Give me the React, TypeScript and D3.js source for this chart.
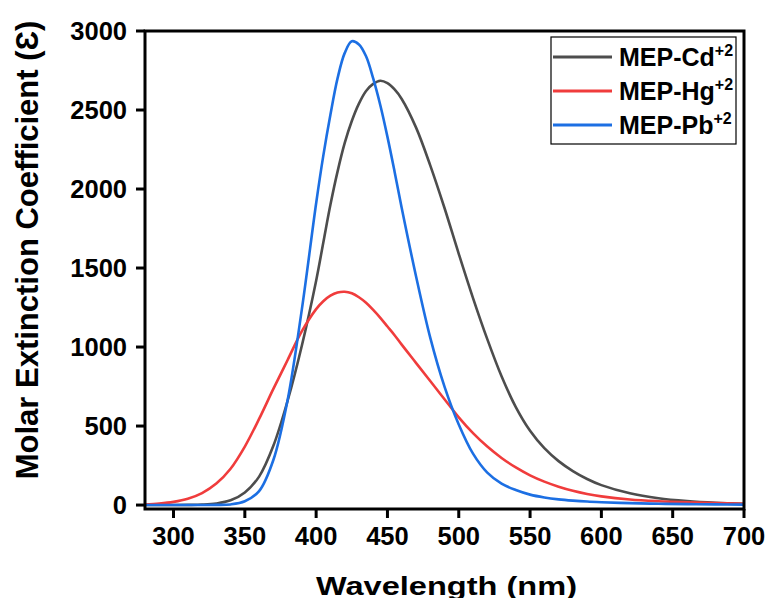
import React from "react";
import * as d3 from "d3";

const wavelengths = [280,290,300,310,320,330,340,350,360,370,380,390,400,405,410,415,420,425,430,435,440,445,450,455,460,470,480,490,500,510,520,530,540,550,560,570,580,590,600,620,640,660,680,700];

const cdValues = [0,0,0,1,3,10,30,80,180,375,660,1010,1420,1660,1900,2110,2290,2430,2540,2620,2665,2685,2670,2630,2570,2390,2150,1880,1590,1310,1050,815,620,470,360,278,215,165,126,74,43,25,14,8];

const hgValues = [3,9,20,40,76,136,230,370,545,735,918,1100,1240,1290,1325,1345,1350,1340,1315,1280,1235,1185,1130,1075,1015,900,785,670,555,455,370,298,238,188,148,116,90,70,55,35,24,17,12,8];

const pbValues = [0,0,0,0,0,1,4,24,88,285,665,1240,1910,2210,2470,2700,2860,2935,2915,2840,2700,2530,2330,2110,1880,1450,1060,750,510,325,205,135,95,66,48,36,28,22,18,12,8,6,4,3];

const seriesNames = ["MEP-Cd", "MEP-Hg", "MEP-Pb"];
const seriesColors = ["#4d4d4d", "#f03c3c", "#1c6fe3"];
const seriesData = [cdValues, hgValues, pbValues];

const xTicks = [300,350,400,450,500,550,600,650,700];
const yTicks = [0,500,1000,1500,2000,2500,3000];

const xLabel = "Wavelength (nm)";
const yLabel = "Molar Extinction Coefficient (\u0190)";

const W = 770, H = 598;
const L = 145, R = 744, T = 31, B = 509;
const FONT = "'Liberation Sans', Arial, sans-serif";

export default function App() {
  const x = d3.scaleLinear().domain([280, 700]).range([L, R]);
  const y = d3.scaleLinear().domain([-25, 3000]).range([B, T]);
  const line = d3.line<[number, number]>()
    .x(d => x(d[0]))
    .y(d => y(d[1]))
    .curve(d3.curveCatmullRom.alpha(0.5));

  const legendRows = [57, 91, 125];

  return (
    <svg width={W} height={H} style={{ position: "absolute", left: 0, top: 0 }} fontFamily={FONT} fontWeight="bold">
      <rect x={0} y={0} width={W} height={H} fill="#fff" />
      <defs>
        <clipPath id="plot">
          <rect x={L} y={T} width={R - L} height={B - T} />
        </clipPath>
      </defs>
      <g clipPath="url(#plot)">
        {seriesData.map((vals, i) => (
          <path key={i}
            d={line(wavelengths.map((w, j) => [w, vals[j]] as [number, number])) || ""}
            fill="none" stroke={seriesColors[i]} strokeWidth={2.6} />
        ))}
      </g>
      <rect x={L} y={T} width={R - L} height={B - T} fill="none" stroke="#000" strokeWidth={3} />
      {xTicks.map(t => (
        <g key={t}>
          <line x1={x(t)} x2={x(t)} y1={B} y2={B + 9} stroke="#000" strokeWidth={3} />
          <text x={x(t)} y={545} textAnchor="middle" fontSize={25.5}>{t}</text>
        </g>
      ))}
      {yTicks.map(t => (
        <g key={t}>
          <line x1={L - 9} x2={L} y1={y(t)} y2={y(t)} stroke="#000" strokeWidth={3} />
          <text x={127} y={y(t) + 9} textAnchor="end" fontSize={25.5}>{t}</text>
        </g>
      ))}
      <text x={(L + R) / 2 + 2} y={595} textAnchor="middle" fontSize={26} textLength={261} lengthAdjust="spacingAndGlyphs">{xLabel}</text>
      <text transform={`translate(38,250) rotate(-90)`} textAnchor="middle" fontSize={31}>{yLabel}</text>
      <rect x={551} y={37} width={185} height={107} fill="#fff" stroke="#000" strokeWidth={1.2} />
      {seriesNames.map((n, i) => (
        <g key={n}>
          <line x1={553} x2={612} y1={legendRows[i]} y2={legendRows[i]} stroke={seriesColors[i]} strokeWidth={2.8} />
          <text x={619} y={legendRows[i] + 8.5} fontSize={25}>
            {n}
            <tspan fontSize={16} dy={-9.5}>+2</tspan>
          </text>
        </g>
      ))}
    </svg>
  );
}
